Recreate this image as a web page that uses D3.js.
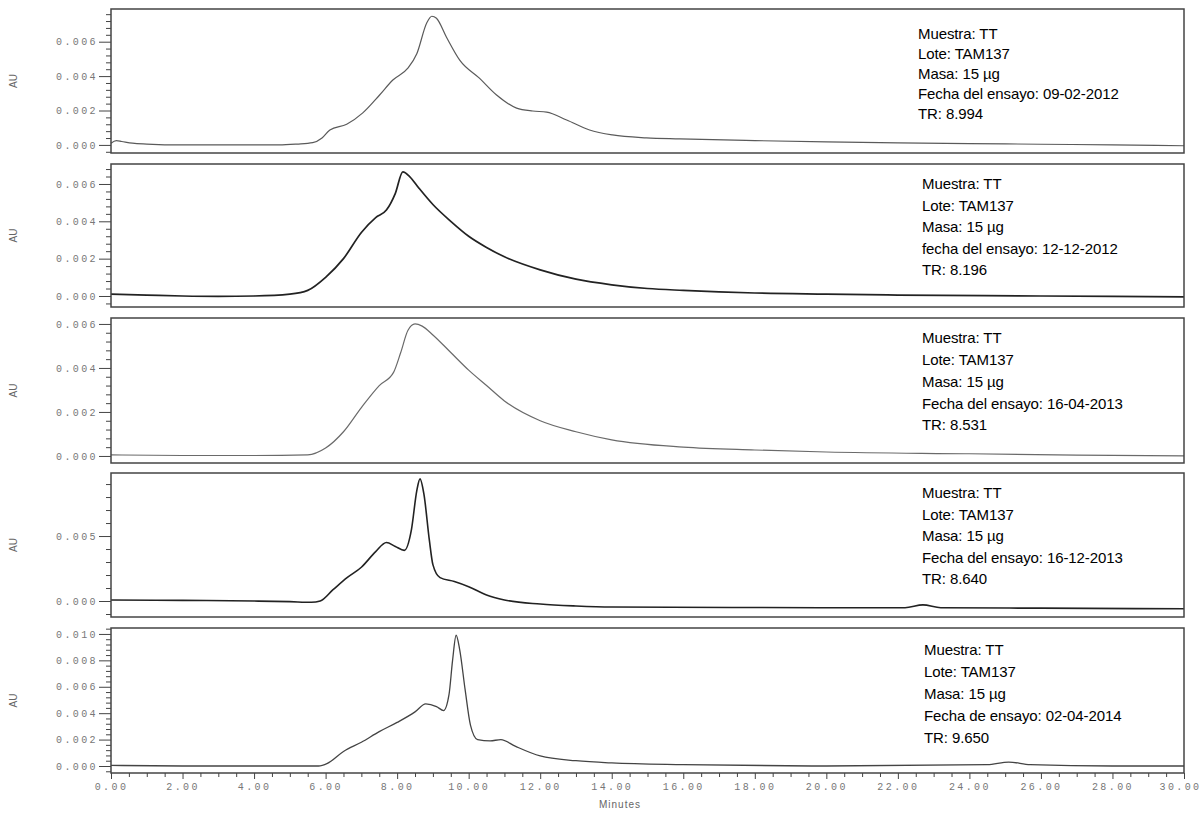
<!DOCTYPE html>
<html><head><meta charset="utf-8">
<script src="https://cdn.jsdelivr.net/npm/d3@7"></script>
<style>body{margin:0;background:#fff}</style>
</head><body><svg id="c" width="1202" height="813"></svg>
<script>
// ---- Data ----
const xTickValues = [0,2,4,6,8,10,12,14,16,18,20,22,24,26,28,30];
const xAxisTitle = "Minutes";
const yAxisTitle = "AU";

const t1 = [0,0.15,0.3,0.6,1,2,3,4,4.7,5.2,5.64,5.9,6.12,6.59,7.04,7.51,7.88,8.3,8.55,8.83,8.97,9.1,9.38,9.75,10.3,10.78,11.34,11.79,12.18,12.74,13.38,14.02,14.97,15.9,18,20,22,24,26,28,30];
const v1 = [0.0001,0.00025,0.0002,0.0001,0.00005,0,0,0,0,0.00005,0.00013,0.0004,0.00087,0.0012,0.00186,0.0029,0.00377,0.00446,0.0053,0.0071,0.00748,0.00736,0.00626,0.00493,0.00388,0.0029,0.00214,0.00197,0.00191,0.00145,0.00087,0.00058,0.00041,0.00035,0.00025,0.00018,0.00012,0.00008,0.00004,0,-0.00005];

const t2 = [0,1,2,3,4,5,5.5,6,6.5,7,7.4,7.7,7.95,8.16,8.35,8.6,9,9.5,10,10.5,11,12,13,14,15,16,18,20,22,26,30];
const v2 = [0.0001,0.00005,0,-0.00002,0,0.0001,0.0003,0.001,0.002,0.0034,0.0042,0.0046,0.0055,0.00665,0.0064,0.0058,0.0049,0.004,0.0032,0.0026,0.0021,0.0014,0.0009,0.0006,0.0004,0.0003,0.00016,0.0001,0.00005,0,-0.00005];

const t3 = [0,2,4,5.5,6,6.5,7,7.5,7.9,8.1,8.3,8.5,8.7,9,9.5,10,10.5,11,12,13,14,16,18,20,24,27,30];
const v3 = [0.00005,0.00002,0.00002,0.00005,0.00036,0.0011,0.0022,0.0032,0.0038,0.0047,0.0057,0.006,0.0059,0.0055,0.0047,0.0039,0.0032,0.0025,0.0016,0.0011,0.00073,0.0004,0.00027,0.00018,0.0001,0.00004,0];

const t4 = [0,2,4,5,5.6,5.85,6.2,6.6,7,7.4,7.7,7.95,8.2,8.4,8.55,8.64,8.75,8.9,9,9.2,9.6,10,10.5,11,12,13,14,18,22.2,22.7,23.2,26,30];
const v4 = [0.00008,0.00005,0,-0.00005,-0.0001,0,0.00085,0.0018,0.0026,0.0038,0.0045,0.0042,0.0039,0.0055,0.0085,0.0094,0.0082,0.0047,0.0028,0.0018,0.0015,0.0011,0.00046,0.00008,-0.00023,-0.00038,-0.00046,-0.0005,-0.00052,-0.0003,-0.00052,-0.00055,-0.0006];

const t5 = [0,2,4,5.8,6.05,6.5,7,7.5,8,8.5,8.8,9.1,9.3,9.45,9.55,9.65,9.75,9.9,10.05,10.25,10.6,10.9,11.3,12,13,14,16,20,24.5,25.1,25.7,28,30];
const v5 = [0.00005,0,0,0,0.0002,0.0011,0.0018,0.0026,0.0033,0.0041,0.0047,0.0045,0.0042,0.0054,0.008,0.0099,0.0088,0.0058,0.0031,0.002,0.0019,0.002,0.0015,0.00076,0.0004,0.00023,0.0001,0,0.0001,0.0003,0.0001,0,0];

const yMajor1 = [0,0.002,0.004,0.006];
const yMajor2 = [0,0.002,0.004,0.006];
const yMajor3 = [0,0.002,0.004,0.006];
const yMajor4 = [0,0.005];
const yMajor5 = [0,0.002,0.004,0.006,0.008,0.010];

const note1 = ["Muestra: TT","Lote: TAM137","Masa: 15 µg","Fecha del ensayo: 09-02-2012","TR: 8.994"];
const note2 = ["Muestra: TT","Lote: TAM137","Masa: 15 µg","fecha del ensayo: 12-12-2012","TR: 8.196"];
const note3 = ["Muestra: TT","Lote: TAM137","Masa: 15 µg","Fecha del ensayo: 16-04-2013","TR: 8.531"];
const note4 = ["Muestra: TT","Lote: TAM137","Masa: 15 µg","Fecha del ensayo: 16-12-2013","TR: 8.640"];
const note5 = ["Muestra: TT","Lote: TAM137","Masa: 15 µg","Fecha de ensayo: 02-04-2014","TR: 9.650"];

// ---- Layout ----
const left = 111, right = 1184;
const panels = [
  {t:t1, v:v1, major:yMajor1, minorStep:0.0004, dom:[-0.00047,0.0079], top:9, bottom:153, note:note1, nx:918, ny:34, gap:20, color:"#5a5a5a", w:1.2},
  {t:t2, v:v2, major:yMajor2, minorStep:0.0004, dom:[-0.00059,0.00707], top:164, bottom:307, note:note2, nx:922, ny:184, gap:21.5, color:"#222", w:1.7},
  {t:t3, v:v3, major:yMajor3, minorStep:0.0004, dom:[-0.00032,0.00627], top:318, bottom:463, note:note3, nx:922, ny:338, gap:21.8, color:"#6a6a6a", w:1.2},
  {t:t4, v:v4, major:yMajor4, minorStep:0.001, dom:[-0.00123,0.00985], top:473, bottom:617, note:note4, nx:922, ny:493, gap:21.5, color:"#222", w:1.6},
  {t:t5, v:v5, major:yMajor5, minorStep:0.0004, dom:[-0.00053,0.01045], top:628, bottom:773, note:note5, nx:924, ny:650, gap:22, color:"#444", w:1.3}
];

const svg = d3.select("#c");
svg.append("rect").attr("width",1202).attr("height",813).attr("fill","#fff");
const x = d3.scaleLinear().domain([0,30]).range([left,right]);
const fmt3 = d3.format(".3f");

panels.forEach((p,i) => {
  const y = d3.scaleLinear().domain(p.dom).range([p.bottom,p.top]);
  const g = svg.append("g");
  const minor = d3.range(Math.ceil(p.dom[0]/p.minorStep)*p.minorStep, p.dom[1], p.minorStep)
    .filter(d => !p.major.some(m => Math.abs(m-d) < 1e-9));
  const ma = g.append("g").attr("transform",`translate(${left},0)`)
    .call(d3.axisLeft(y).tickValues(minor).tickSize(5).tickFormat(""));
  ma.select(".domain").remove();
  ma.selectAll("line").attr("stroke","#444");
  const ax = g.append("g").attr("transform",`translate(${left},0)`)
    .call(d3.axisLeft(y).tickValues(p.major).tickSize(12).tickPadding(1).tickFormat(fmt3));
  ax.select(".domain").remove();
  ax.selectAll("line").attr("stroke","#444");
  ax.selectAll("text").attr("font-family","Liberation Mono, DejaVu Sans Mono, monospace")
    .attr("font-size",10).attr("fill","#777").attr("letter-spacing","2.4px");
  const pts = p.t.map((tt,k)=>[tt,p.v[k]]);
  g.append("path").datum(pts)
    .attr("d", d3.line().x(d=>x(d[0])).y(d=>y(d[1])).curve(d3.curveMonotoneX))
    .attr("fill","none").attr("stroke",p.color).attr("stroke-width",p.w).attr("stroke-linejoin","round");
  g.append("rect").attr("x",left).attr("y",p.top).attr("width",right-left).attr("height",p.bottom-p.top)
    .attr("fill","none").attr("stroke","#444").attr("stroke-width",1.5);
  g.append("text").attr("transform",`translate(17,${(p.top+p.bottom)/2}) rotate(-90)`)
    .attr("text-anchor","middle").attr("font-family","Liberation Sans, Arial, sans-serif")
    .attr("font-size",10).attr("fill","#666").text(yAxisTitle);
  const tx = g.append("text").attr("font-family","Liberation Sans, Arial, sans-serif")
    .attr("font-size",15).attr("fill","#000").attr("letter-spacing","-0.1px");
  p.note.forEach((s,k)=>{
    tx.append("tspan").attr("x",p.nx).attr("y",p.ny + k*p.gap).attr("dy","0.35em").text(s);
  });
});

const bottomY = panels[4].bottom;
const xMinor = d3.range(0,30.01,0.5).filter(d => !xTickValues.includes(d));
const xm = svg.append("g").attr("transform",`translate(0,${bottomY})`)
  .call(d3.axisBottom(x).tickValues(xMinor).tickSize(4).tickFormat(""));
xm.select(".domain").remove();
xm.selectAll("line").attr("stroke","#444");
const xa = svg.append("g").attr("transform",`translate(0,${bottomY})`)
  .call(d3.axisBottom(x).tickValues(xTickValues).tickSize(6).tickPadding(4).tickFormat(d3.format(".2f")));
xa.select(".domain").remove();
xa.selectAll("line").attr("stroke","#444");
xa.selectAll("text").attr("font-family","Liberation Mono, DejaVu Sans Mono, monospace")
  .attr("font-size",10).attr("fill","#777").attr("letter-spacing","2.4px");
xa.selectAll("text").filter(d => d === 30).attr("text-anchor","end").attr("x", 1201 - right);
svg.append("text").attr("x",620).attr("y",808).attr("text-anchor","middle")
  .attr("font-family","Liberation Sans, Arial, sans-serif").attr("font-size",10).attr("fill","#666")
  .attr("letter-spacing","1px").text(xAxisTitle);
</script></body></html>
